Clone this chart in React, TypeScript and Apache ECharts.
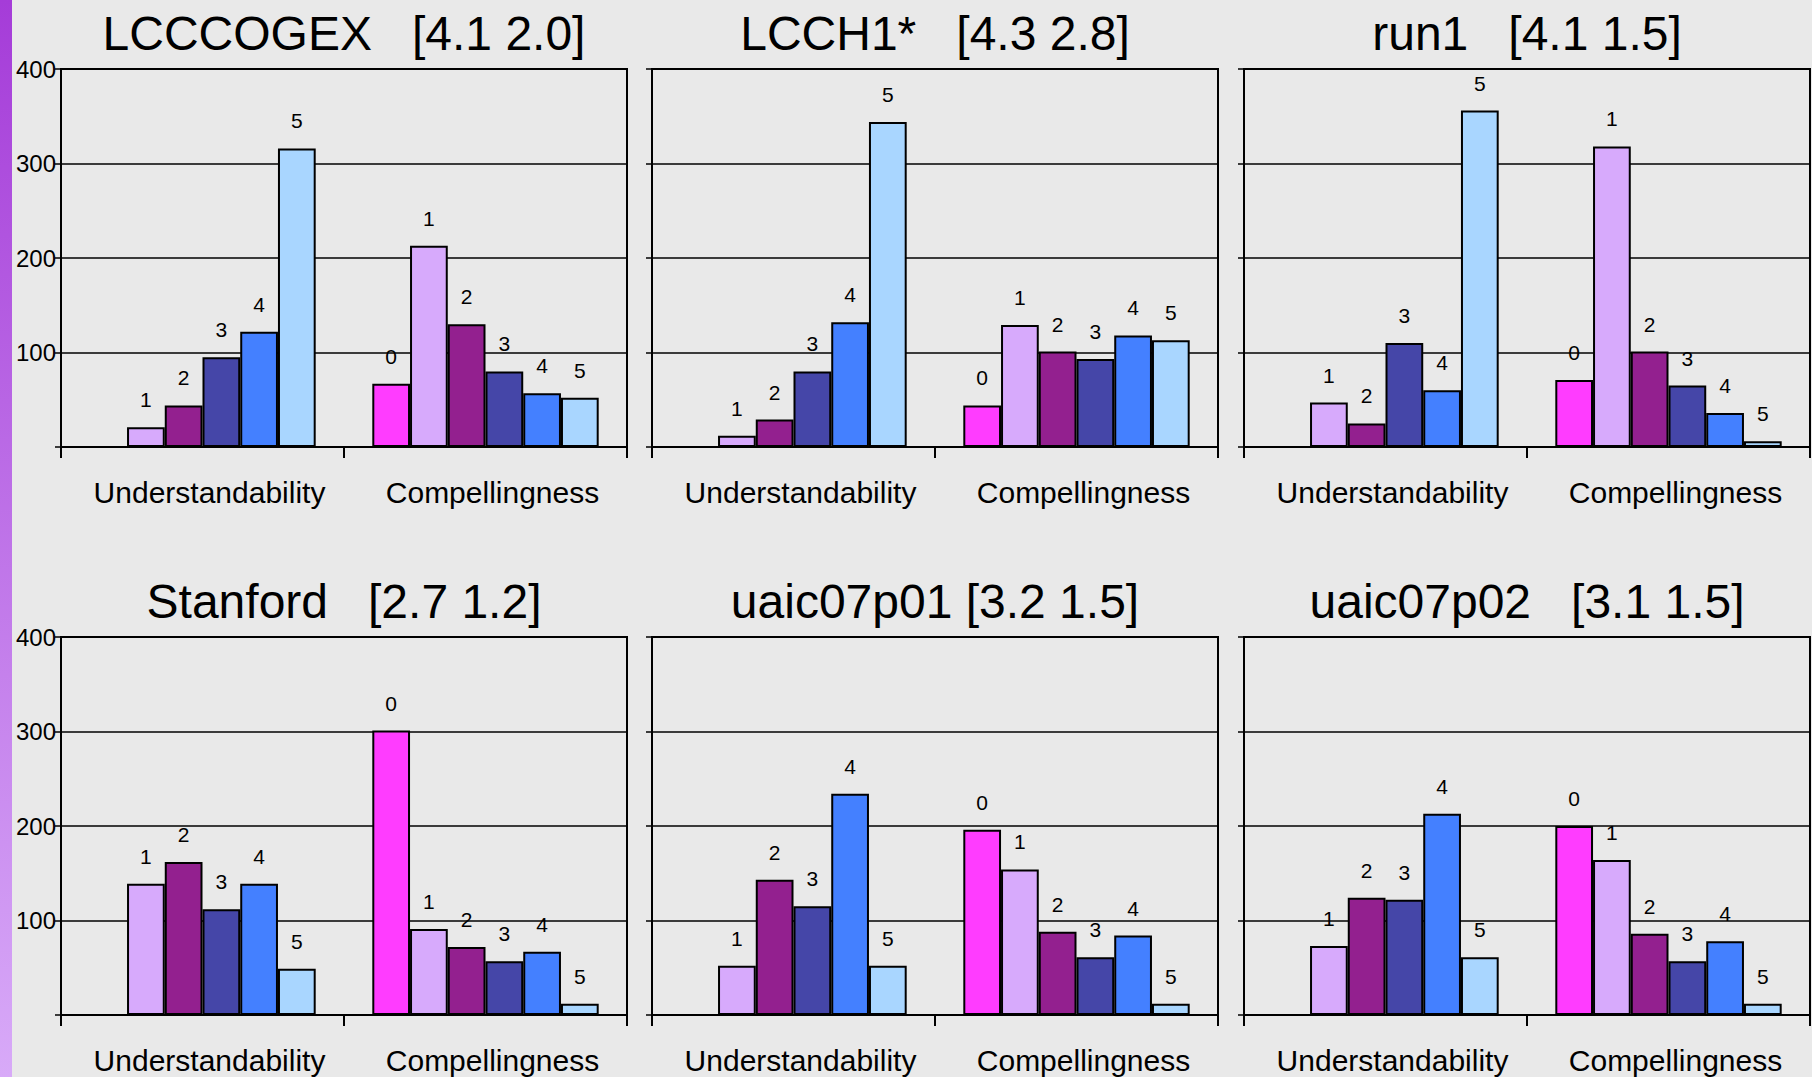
import React, { useEffect, useRef } from "react";
import * as echarts from "echarts";

// ---- Data ----
const categories = ["Understandability", "Compellingness"];
const seriesNames = ["0", "1", "2", "3", "4", "5"];
const yTicks = [0, 100, 200, 300, 400];

const panelTitles = [
  "LCCCOGEX   [4.1 2.0]",
  "LCCH1*   [4.3 2.8]",
  "run1   [4.1 1.5]",
  "Stanford   [2.7 1.2]",
  "uaic07p01 [3.2 1.5]",
  "uaic07p02   [3.1 1.5]",
];

// values per score 0..5 (Understandability has no score 0)
const lcccogexU = [null, 21, 44, 95, 122, 316];
const lcccogexC = [67, 213, 130, 80, 57, 52];
const lcch1U = [null, 12, 29, 80, 132, 344];
const lcch1C = [44, 129, 101, 93, 118, 113];
const run1U = [null, 47, 25, 110, 60, 356];
const run1C = [71, 318, 101, 65, 36, 6];
const stanfordU = [null, 139, 162, 112, 139, 49];
const stanfordC = [301, 91, 72, 57, 67, 12];
const uaic07p01U = [null, 52, 143, 115, 234, 52];
const uaic07p01C = [196, 154, 88, 61, 84, 12];
const uaic07p02U = [null, 73, 124, 122, 213, 61];
const uaic07p02C = [200, 164, 86, 57, 78, 12];

const panelU = [lcccogexU, lcch1U, run1U, stanfordU, uaic07p01U, uaic07p02U];
const panelC = [lcccogexC, lcch1C, run1C, stanfordC, uaic07p01C, uaic07p02C];

// ---- Styles ----
const colors = ["#ff3cff", "#d7aafc", "#93208f", "#4546a8", "#4480ff", "#a9d6ff"];
const FONT = "'Liberation Sans', Arial, sans-serif";
const gridLefts = [61, 652, 1244];
const gridTops = [69, 637];
const GRID_W = 566;
const GRID_H = 378;

function buildOption() {
  const grid: any[] = [];
  const xAxis: any[] = [];
  const yAxis: any[] = [];
  const series: any[] = [];
  const title: any[] = [];

  for (let p = 0; p < 6; p++) {
    const col = p % 3;
    const row = Math.floor(p / 3);
    const left = gridLefts[col];
    const top = gridTops[row];
    grid.push({
      left,
      top,
      width: GRID_W,
      height: GRID_H,
      show: true,
      borderColor: "#000",
      borderWidth: 2,
      backgroundColor: "transparent",
      containLabel: false,
    });
    title.push({
      text: panelTitles[p],
      left: left + GRID_W / 2,
      top: top - 60,
      textAlign: "center",
      padding: 0,
      textStyle: {
        fontSize: 48,
        lineHeight: 48,
        fontWeight: "normal",
        color: "#000",
        fontFamily: FONT,
      },
    });
    xAxis.push({
      type: "category",
      gridIndex: p,
      data: categories,
      axisLine: { show: true, lineStyle: { color: "#000", width: 2 } },
      axisTick: { show: true, length: 11, lineStyle: { color: "#000", width: 2 } },
      axisLabel: {
        show: true,
        interval: 0,
        hideOverlap: false,
        margin: 30,
        fontSize: 30,
        padding: [0, 0, 0, 14],
        color: "#000",
        fontFamily: FONT,
      },
      splitLine: { show: false },
    });
    yAxis.push({
      type: "value",
      gridIndex: p,
      min: yTicks[0],
      max: yTicks[yTicks.length - 1],
      interval: 100,
      axisLine: { show: true, lineStyle: { color: "#000", width: 2 } },
      axisTick: { show: true, length: 6, lineStyle: { color: "#000", width: 1.5 } },
      axisLabel: {
        show: col === 0,
        margin: 5,
        fontSize: 24,
        color: "#000",
        fontFamily: FONT,
        formatter: (v: number) => (v === 0 ? "" : String(v)),
      },
      splitLine: { show: true, lineStyle: { color: "#000", width: 1.5 } },
    });
    for (let i = 0; i < 6; i++) {
      series.push({
        type: "bar",
        name: seriesNames[i],
        xAxisIndex: p,
        yAxisIndex: p,
        data: [panelU[p][i], panelC[p][i]],
        barGap: "0%",
        barCategoryGap: "20%",
        itemStyle: { color: colors[i], borderColor: "#000", borderWidth: 2 },
        label: {
          show: true,
          position: "top",
          distance: 17,
          formatter: "{a}",
          fontSize: 21,
          color: "#000",
          fontFamily: FONT,
        },
      });
    }
  }

  return {
    animation: false,
    backgroundColor: "#e9e9e9",
    title,
    grid,
    xAxis,
    yAxis,
    series,
    graphic: [
      {
        type: "rect",
        shape: { x: 0, y: 0, width: 12, height: 1077 },
        style: {
          fill: new echarts.graphic.LinearGradient(0, 0, 0, 1, [
            { offset: 0, color: "#a53cd8" },
            { offset: 1, color: "#d8aaf8" },
          ]),
        },
        silent: true,
      },
    ],
  };
}

export default function App() {
  const ref = useRef<HTMLDivElement>(null);
  useEffect(() => {
    if (!ref.current) return;
    const chart = echarts.init(ref.current, null, { renderer: "svg" });
    chart.setOption(buildOption() as any);
    return () => chart.dispose();
  }, []);
  return (
    <div
      ref={ref}
      style={{ position: "fixed", left: 0, top: 0, width: 1812, height: 1077 }}
    />
  );
}
